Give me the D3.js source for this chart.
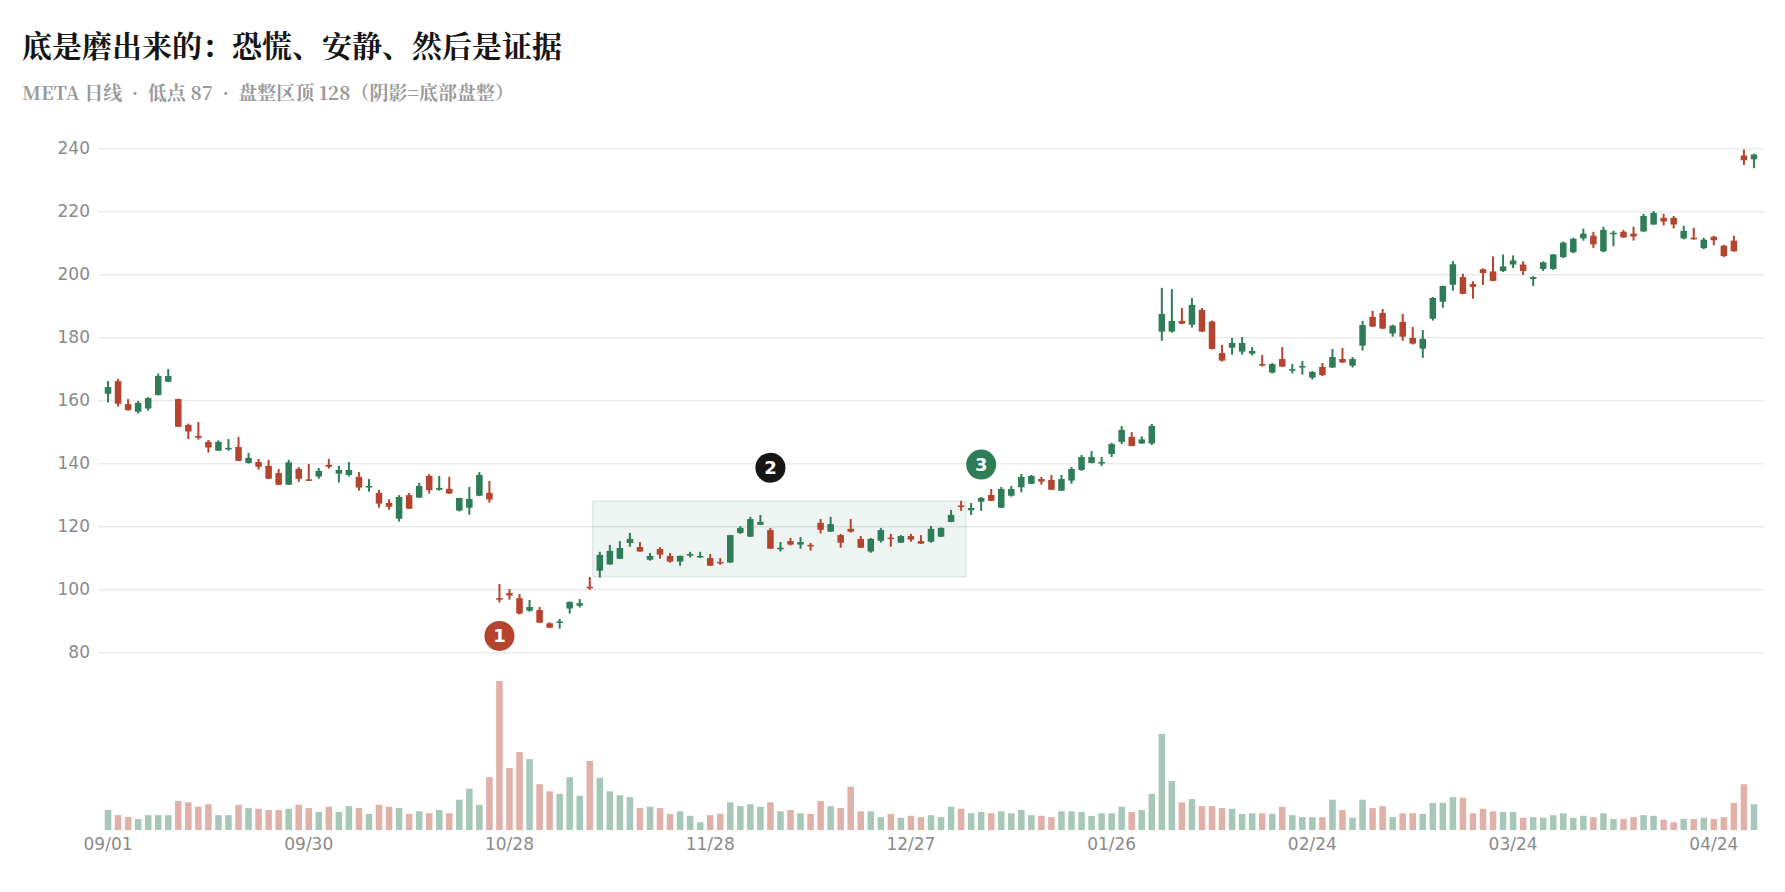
<!DOCTYPE html>
<html><head><meta charset="utf-8">
<script src="https://cdn.jsdelivr.net/npm/d3@7"></script>
<style>body{margin:0;background:#fff}svg{display:block}</style>
</head><body>
<svg id="chart" width="1785" height="892"></svg>
<script>
const dates = ["09/01","09/02","09/06","09/07","09/08","09/09","09/12","09/13","09/14","09/15","09/16","09/19","09/20","09/21","09/22","09/23","09/26","09/27","09/28","09/29","09/30",
"10/03","10/04","10/05","10/06","10/07","10/10","10/11","10/12","10/13","10/14","10/17","10/18","10/19","10/20","10/21","10/24","10/25","10/26","10/27","10/28","10/31",
"11/01","11/02","11/03","11/04","11/07","11/08","11/09","11/10","11/11","11/14","11/15","11/16","11/17","11/18","11/21","11/22","11/23","11/25","11/28","11/29","11/30",
"12/01","12/02","12/05","12/06","12/07","12/08","12/09","12/12","12/13","12/14","12/15","12/16","12/19","12/20","12/21","12/22","12/23","12/27","12/28","12/29","12/30",
"01/03","01/04","01/05","01/06","01/09","01/10","01/11","01/12","01/13","01/17","01/18","01/19","01/20","01/23","01/24","01/25","01/26","01/27","01/30","01/31",
"02/01","02/02","02/03","02/06","02/07","02/08","02/09","02/10","02/13","02/14","02/15","02/16","02/17","02/21","02/22","02/23","02/24","02/27","02/28",
"03/01","03/02","03/03","03/06","03/07","03/08","03/09","03/10","03/13","03/14","03/15","03/16","03/17","03/20","03/21","03/22","03/23","03/24","03/27","03/28","03/29","03/30","03/31",
"04/03","04/04","04/05","04/06","04/10","04/11","04/12","04/13","04/14","04/17","04/18","04/19","04/20","04/21","04/24","04/25","04/26","04/27","04/28"];

const openP = [162.1,166.1,158.8,156.4,157.4,161.7,165.9,160.4,152.2,148.7,146.8,144.0,144.4,145.2,140.1,140.4,139.2,136.9,133.2,138.2,134.9,
135.8,139.5,136.7,136.3,135.7,132.3,130.6,127.4,122.4,129.9,129.1,136.0,131.6,131.9,125.0,125.9,129.7,130.6,97.2,98.8,97.2,
93.2,93.4,89.2,89.4,93.9,94.8,100.8,105.9,107.9,109.7,114.7,113.4,109.4,112.8,110.6,108.8,110.7,110.1,109.9,108.7,108.5,
117.9,116.7,120.5,118.8,112.7,115.3,114.2,114.1,121.1,118.3,117.2,119.2,116.0,112.0,115.4,116.4,114.8,116.9,115.3,115.1,116.7,
121.4,126.6,125.1,127.8,129.95,125.9,129.7,132.4,133.5,135.0,134.7,131.3,134.5,137.9,140.1,140.0,142.96,146.8,148.4,146.3,
146.3,181.8,181.8,185.2,184.0,188.7,185.0,175.0,176.7,175.45,174.8,171.5,168.8,173.1,169.4,170.4,167.2,170.6,170.4,
173.1,171.0,177.35,186.5,187.7,181.2,184.9,179.8,176.4,185.9,191.3,196.7,199.1,196.9,201.6,200.9,201.05,203.1,203.1,198.5,201.7,201.7,205.45,
207.0,211.4,212.25,207.3,212.7,213.5,212.9,213.6,215.8,217.9,217.9,211.4,211.6,208.3,211.9,209.1,210.7,237.7,236.5];

const highP = [166.1,166.8,160.4,159.8,161.0,168.5,169.9,160.5,152.6,153.1,147.4,147.3,147.7,148.4,143.3,141.4,141.1,138.2,141.1,138.8,139.8,
138.5,141.4,139.2,140.4,137.2,135.0,131.5,128.6,129.9,130.6,133.8,136.6,136.0,135.7,129.0,132.5,137.2,134.4,101.7,100.1,98.5,
96.6,94.4,89.5,90.6,96.1,96.9,103.9,111.9,114.1,115.3,117.9,115.0,111.5,113.4,111.5,110.7,111.9,111.9,111.2,109.9,117.3,
120.1,123.0,123.6,119.5,115.0,116.3,116.6,114.7,122.3,123.0,117.6,122.3,116.9,116.3,119.5,117.6,117.2,117.6,117.2,120.1,119.6,
125.2,128.1,127.4,129.3,131.85,132.5,132.8,136.6,136.3,135.7,136.3,136.3,138.8,142.65,143.9,142.0,146.5,151.85,149.9,148.6,
152.5,195.7,195.3,189.3,192.5,189.3,185.3,177.6,179.8,180.1,176.9,174.4,171.85,176.9,171.5,172.5,169.3,171.85,176.3,
176.6,173.75,185.2,188.4,189.0,184.0,187.4,183.3,182.3,192.8,196.4,204.2,200.2,197.8,201.9,205.65,206.3,206.0,204.1,199.4,204.1,206.4,210.4,
211.6,214.5,213.5,215.1,213.8,214.1,215.1,219.2,220.1,219.2,218.5,215.4,214.8,211.6,212.25,209.4,212.25,239.6,238.3];

const lowP = [159.3,158.0,156.7,155.8,156.7,161.5,165.8,151.5,147.7,147.5,143.4,143.9,144.0,140.7,139.9,138.0,135.0,133.1,133.1,134.1,134.4,
135.1,138.3,133.9,135.8,131.3,131.0,125.9,125.3,121.5,125.5,129.0,130.4,131.3,130.3,124.7,123.7,129.6,127.5,95.8,96.7,92.0,
92.9,89.3,87.8,87.5,92.3,94.2,99.8,103.7,107.8,109.6,113.5,111.9,109.1,109.7,108.5,107.5,110.1,110.0,107.4,107.8,108.4,
117.6,116.6,120.4,112.8,112.0,113.9,112.9,112.3,117.7,118.2,113.2,118.0,113.1,111.6,114.8,113.5,114.7,115.1,114.4,114.8,116.6,
121.3,124.9,123.6,124.9,128.0,125.8,129.4,130.8,133.4,133.2,131.5,131.2,133.5,137.6,140.0,139.15,142.0,146.1,145.4,146.2,
145.8,178.9,181.5,184.2,183.1,181.7,176.1,172.3,174.5,174.5,174.2,170.7,168.5,170.6,168.5,168.15,166.6,167.7,170.3,
171.9,170.4,175.8,183.3,182.6,180.2,178.9,177.7,173.5,185.3,189.4,194.8,193.7,192.25,196.6,197.8,200.7,202.0,199.8,196.3,201.05,201.4,205.1,
206.7,210.7,208.3,207.0,208.9,211.6,210.7,213.5,215.7,215.5,214.55,211.1,211.0,208.0,209.2,205.45,207.2,234.7,233.7];

const closeP = [164.2,158.9,156.9,159.2,160.7,167.7,167.7,151.6,150.1,148.1,145.0,146.8,144.9,140.8,141.7,138.9,135.1,133.2,140.3,135.1,134.5,
137.6,138.9,137.9,137.9,132.3,132.8,127.2,126.2,129.3,125.6,132.8,131.5,132.2,130.4,129.0,128.7,136.3,128.5,96.7,98.0,92.3,
94.4,89.4,87.8,89.8,96.0,95.6,100.4,110.9,112.2,113.1,116.0,112.0,110.6,111.0,108.8,110.6,111.2,110.6,107.5,108.4,117.2,
119.5,122.3,121.4,112.9,113.2,114.2,115.0,113.7,118.9,120.7,114.8,118.3,113.2,116.0,118.8,116.1,116.9,115.8,114.5,119.2,119.5,
123.6,126.1,125.8,129.0,128.1,131.85,131.85,135.7,136.0,134.2,131.6,135.0,138.2,142.0,142.0,140.4,146.1,150.6,145.5,147.6,
151.85,187.4,185.2,184.3,190.3,181.8,176.3,172.6,178.2,178.2,175.7,171.0,171.5,170.7,169.9,170.9,169.0,168.0,173.75,
172.0,173.1,183.9,183.4,182.75,183.7,180.2,178.0,179.5,192.5,196.3,203.2,193.8,196.0,200.4,197.9,202.5,204.4,201.05,199.1,203.8,206.3,210.05,
211.3,212.9,209.5,214.1,213.2,211.7,212.0,218.5,219.5,216.75,215.8,213.8,211.1,211.0,210.8,205.8,207.3,236.2,238.0];

const volumeM = [31,23,20,17,23,23,23,45,43,36,40,23,23,39,34,33,31,31,33,39,34,28,36,28,37,34,25,39,36,34,25,29,26,31,26,47,64,39,82,231,96,121,110,71,60,56,82,53,107,81,60,54,51,
34,36,34,25,29,22,12,23,25,43,37,40,36,43,29,31,26,25,45,37,34,67,29,29,20,25,19,22,20,23,20,36,33,26,28,26,29,26,31,23,22,20,29,29,28,22,26,26,36,28,31,56,149,76,43,48,37,
37,34,33,25,26,26,25,36,23,20,20,20,47,31,19,47,34,37,20,26,26,25,42,42,51,50,26,33,29,28,28,19,20,19,23,26,19,22,20,26,17,17,20,23,22,16,12,17,17,19,17,20,42,71,40];

const priceTicks = [80,100,120,140,160,180,200,220,240];
const dateTicks = ["09/01","09/30","10/28","11/28","12/27","01/26","02/24","03/24","04/24"];

const zoneStart = "11/10", zoneEnd = "01/04", zoneLow = 104, zoneHigh = 128;
const markerLabels = ["1","2","3"];
const markerDates = ["10/27","12/06","01/06"];
const markerPrices = [85.2,138.6,139.6];
const markerColors = ["#b5442f","#161616","#2e7d57"];

const titleText = "底是磨出来的：恐慌、安静、然后是证据";
const subtitleText = "META 日线  ·  低点 87  ·  盘整区顶 128（阴影=底部盘整）";

const UP = "#2e7d57", DOWN = "#b5442f";

const data = dates.map((d,i)=>({d, o:openP[i], h:highP[i], l:lowP[i], c:closeP[i], v:volumeM[i]}));

const svg = d3.select("#chart");
const left = 98, right = 1764;

const x = d3.scaleBand().domain(dates).range([left, right]).paddingInner(0.35).paddingOuter(0.675);
const bw = x.bandwidth();
const cx = d => x(d) + bw/2;

const y = d3.scaleLinear().domain([80,240]).range([652.3,148.3]);
const yv = d3.scaleLinear().domain([0, d3.max(volumeM)]).range([830, 681]);

const serif = "'Noto Serif CJK SC','Source Han Serif SC','Liberation Serif','Noto Sans CJK SC',serif";

svg.append("text").attr("x",22).attr("y",57).attr("font-family",serif)
  .attr("font-size",30).attr("font-weight",700).attr("fill","#151515").text(titleText);
svg.append("text").attr("x",22).attr("y",100).attr("font-family",serif)
  .style("white-space","pre")
  .attr("font-size",19).attr("font-weight",700).attr("fill","#9a9a9a").text(subtitleText);

// grid + y labels
const yAxis = d3.axisLeft(y).tickValues(priceTicks).tickSize(-(right-left)).tickPadding(8);
const gy = svg.append("g").attr("transform",`translate(${left},0)`).call(yAxis);
gy.select(".domain").remove();
gy.selectAll(".tick line").attr("stroke","#e2e2e2").attr("stroke-width",1);
gy.selectAll(".tick text").attr("font-family","'DejaVu Sans',sans-serif").attr("font-size",17).attr("fill","#8a8a8a");

// zone
svg.append("rect")
  .attr("x", cx(zoneStart) - x.step()*0.72)
  .attr("width", cx(zoneEnd) + x.step()*0.5 - (cx(zoneStart) - x.step()*0.72))
  .attr("y", y(zoneHigh)).attr("height", y(zoneLow) - y(zoneHigh))
  .attr("fill","#2e7d57").attr("fill-opacity",0.085)
  .attr("stroke","#2e7d57").attr("stroke-opacity",0.12).attr("stroke-width",1.5);

// volume
svg.append("g").selectAll("rect").data(data).join("rect")
  .attr("x", d=>x(d.d)).attr("width", bw)
  .attr("y", d=>yv(d.v)).attr("height", d=>yv(0)-yv(d.v))
  .attr("fill", d=>d.c>=d.o?UP:DOWN).attr("fill-opacity",0.42);

// candles
const cg = svg.append("g").selectAll("g").data(data).join("g");
cg.append("line").attr("x1",d=>cx(d.d)).attr("x2",d=>cx(d.d))
  .attr("y1",d=>y(d.h)).attr("y2",d=>y(d.l))
  .attr("stroke",d=>d.c>=d.o?UP:DOWN).attr("stroke-width",2);
cg.append("rect").attr("x",d=>x(d.d)).attr("width",bw)
  .attr("y",d=>y(Math.max(d.o,d.c)))
  .attr("height",d=>Math.max(1.5, Math.abs(y(d.o)-y(d.c))))
  .attr("fill",d=>d.c>=d.o?UP:DOWN);

// x axis labels
const xAxis = d3.axisBottom(x).tickValues(dateTicks).tickSize(0).tickPadding(0);
const gx = svg.append("g").attr("transform","translate(0,836)").call(xAxis);
gx.select(".domain").remove();
gx.selectAll(".tick text").attr("font-family","'DejaVu Sans',sans-serif").attr("font-size",17).attr("fill","#8a8a8a").attr("dy","0.85em");

// markers
const mk = svg.append("g").selectAll("g").data(markerLabels).join("g")
  .attr("transform",(m,i)=>`translate(${cx(markerDates[i])},${y(markerPrices[i])})`);
mk.append("circle").attr("r",15).attr("fill",(m,i)=>markerColors[i]);
mk.append("text").attr("text-anchor","middle").attr("dy","0.36em")
  .attr("font-family","'DejaVu Sans',sans-serif").attr("font-weight",700).attr("font-size",18)
  .attr("fill","#fff").text(m=>m);
</script>
</body></html>
